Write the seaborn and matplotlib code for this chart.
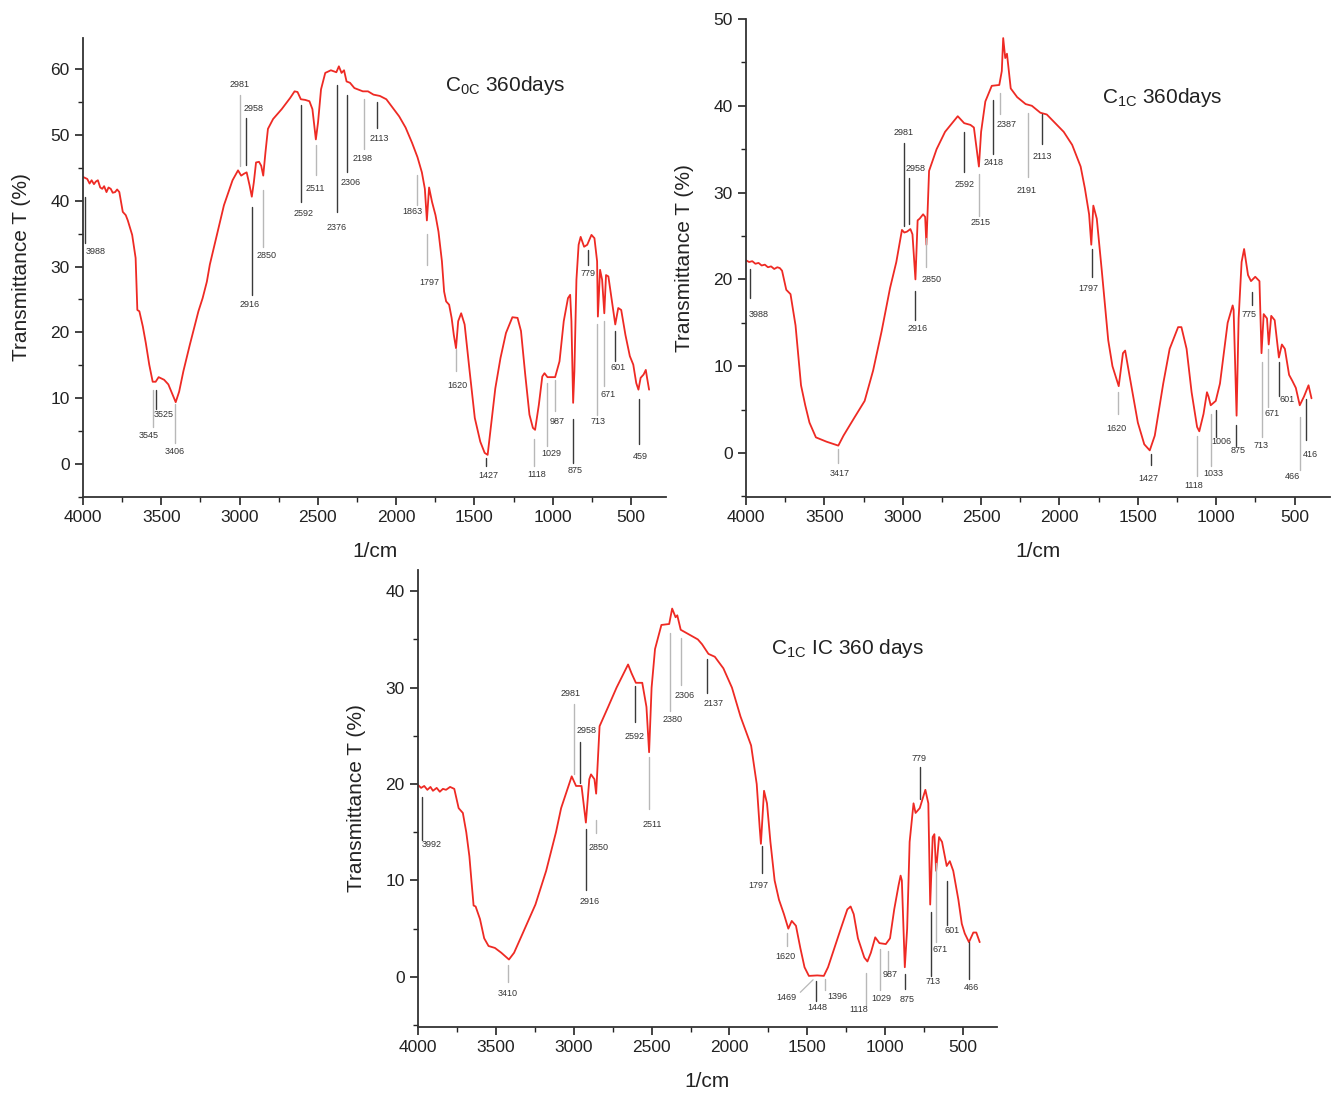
import matplotlib
matplotlib.use("Agg")
import matplotlib.pyplot as plt
import seaborn as sns
import pandas as pd
from matplotlib.ticker import MultipleLocator

# ---------------- data: C0C 360 days ----------------
c0c_wn = [4000, 3973, 3958, 3945, 3930, 3918, 3905, 3890, 3877, 3865, 3850, 3837, 3823, 3810, 3795, 3782, 3768,
          3746, 3727, 3714, 3686, 3664, 3653, 3640, 3618, 3599, 3577, 3555, 3536, 3517, 3482, 3455, 3427, 3408,
          3386, 3359, 3318, 3263, 3236, 3209, 3190, 3140, 3100, 3045, 3010, 2990, 2971, 2955, 2936, 2922, 2909,
          2895, 2876, 2862, 2849, 2835, 2819, 2786, 2731, 2677, 2649, 2630, 2609, 2581, 2554, 2535, 2513, 2499,
          2480, 2453, 2417, 2382, 2366, 2349, 2333, 2317, 2295, 2267, 2213, 2180, 2145, 2104, 2063, 2022, 1981,
          1940, 1899, 1864, 1836, 1817, 1804, 1790, 1771, 1749, 1730, 1708, 1694, 1681, 1662, 1646, 1632, 1618,
          1604, 1585, 1563, 1531, 1498, 1463, 1435, 1416, 1394, 1367, 1334, 1299, 1258, 1225, 1203, 1176, 1149,
          1127, 1113, 1089, 1067, 1053, 1034, 1012, 985, 957, 930, 903, 889, 881, 870, 862, 849, 835, 822, 800,
          780, 753, 734, 717, 712, 698, 685, 671, 660, 645, 631, 601, 582, 563, 536, 508, 486, 467, 453, 439,
          420, 406, 398, 385]
c0c_t = [43.6, 43.3, 42.6, 43.1, 42.5, 42.9, 43.1, 42.0, 41.8, 42.2, 41.3, 42.0, 41.8, 41.2, 41.3, 41.7, 41.3,
         38.3, 37.8, 37.0, 34.8, 31.3, 23.4, 23.2, 20.9, 18.4, 15.1, 12.5, 12.5, 13.2, 12.8, 12.1, 10.5, 9.4,
         11.0, 14.1, 18.1, 23.2, 25.2, 27.7, 30.3, 35.3, 39.3, 43.1, 44.6, 43.8, 44.1, 44.3, 42.3, 40.6, 42.8,
         45.8, 45.9, 45.3, 43.8, 47.3, 50.9, 52.4, 53.9, 55.6, 56.6, 56.5, 55.4, 55.3, 55.1, 53.9, 49.3, 51.9,
         56.9, 59.4, 59.8, 59.5, 60.4, 59.4, 59.8, 58.1, 57.9, 57.1, 56.6, 56.6, 56.1, 55.9, 55.4, 54.1, 52.8,
         51.1, 48.8, 46.6, 44.3, 41.8, 37.0, 42.0, 39.8, 37.8, 35.3, 30.8, 26.2, 24.7, 24.2, 22.2, 19.6, 17.6,
         21.7, 22.9, 21.2, 14.1, 7.0, 3.4, 1.7, 1.4, 6.0, 11.5, 16.1, 19.9, 22.3, 22.2, 20.2, 13.6, 7.5,
         5.5, 5.2, 9.0, 13.3, 13.8, 13.2, 13.2, 13.2, 15.6, 21.7, 25.2, 25.7, 21.7, 9.3, 14.1, 28.0, 33.3, 34.5, 33.0,
         33.3, 34.8, 34.3, 30.8, 22.4, 29.5, 28.0, 22.9, 28.7, 28.5, 26.2, 21.2, 23.7, 23.4, 19.6, 16.4, 15.1, 12.3, 11.3, 13.1,
         13.6, 14.3, 13.1, 11.3]
c0c_labels = ["3988", "3545", "3525", "3406", "2981", "2958", "2916", "2850", "2592", "2511", "2376", "2306",
              "2198", "2113", "1863", "1797", "1620", "1427", "1118", "1029", "987", "875", "779", "713", "671",
              "601", "459"]

# ---------------- data: C1C 360 days ----------------
c1c_wn = [4000, 3980, 3960, 3940, 3920, 3900, 3880, 3860, 3840, 3820, 3800, 3784, 3770, 3743, 3716, 3684, 3649,
          3622, 3595, 3554, 3486, 3411, 3378, 3311, 3243, 3189, 3135, 3081, 3041, 3005, 2990, 2973, 2951, 2938, 2919,
          2905, 2892, 2870, 2857, 2849, 2832, 2784, 2730, 2649, 2608, 2568, 2546, 2514, 2500, 2473, 2432, 2384,
          2368, 2359, 2346, 2335, 2311, 2270, 2216, 2176, 2122, 2081, 2027, 1973, 1919, 1865, 1838, 1811, 1797,
          1784, 1762, 1730, 1689, 1662, 1622, 1595, 1581, 1554, 1500, 1459, 1424, 1392, 1338, 1297, 1243, 1222,
          1189, 1157, 1122, 1108, 1081, 1059, 1049, 1035, 1003, 976, 941, 927, 895, 889, 870, 857, 838, 822, 797,
          778, 751, 724, 711, 697, 676, 665, 649, 627, 600, 581, 562, 535, 514, 492, 467, 440, 411, 392]
c1c_t = [22.2, 22.0, 22.1, 21.8, 21.9, 21.6, 21.7, 21.4, 21.5, 21.2, 21.4, 21.3, 21.0, 18.8, 18.3, 14.7, 7.8,
         5.5, 3.5, 1.8, 1.3, 0.85, 2.0, 4.0, 6.0, 9.5, 14.0, 19.0, 22.0, 25.7, 25.4, 25.5, 25.8, 25.2, 20.0,
         26.8, 27.0, 27.5, 27.2, 24.0, 32.5, 35.0, 37.0, 38.8, 38.0, 37.8, 37.5, 33.0, 37.0, 40.5, 42.3, 42.4,
         44.0, 47.8, 45.5, 46.0, 42.0, 41.0, 40.2, 40.0, 39.2, 39.0, 38.0, 37.0, 35.5, 33.0, 30.5, 27.5, 24.0,
         28.5, 27.0, 21.0, 13.0, 10.0, 7.7, 11.5, 11.8, 9.0, 3.5, 1.0, 0.3, 2.0, 8.0, 12.0, 14.5, 14.5,
         12.0, 7.0, 3.0, 2.5, 4.5, 7.0, 6.5, 5.5, 6.0, 8.0, 13.0, 15.0, 17.0, 16.5, 4.3, 15.5, 22.0, 23.5, 20.5,
         19.8, 20.3, 19.8, 11.5, 16.0, 15.5, 12.5, 15.8, 15.3, 11.0, 12.5, 12.0, 9.0, 8.3, 7.5, 5.5, 6.5, 7.8, 6.3]
c1c_labels = ["3988", "3417", "2981", "2958", "2916", "2850", "2592", "2515", "2418", "2387", "2191", "2113",
              "1797", "1620", "1427", "1118", "1033", "1006", "875", "775", "713", "671", "601", "466", "416"]

# ---------------- data: C1C IC 360 days ----------------
c1cic_wn = [4000, 3980, 3960, 3940, 3920, 3904, 3880, 3860, 3840, 3820, 3794, 3767, 3739, 3712, 3690, 3670, 3657,
            3643, 3630, 3602, 3575, 3547, 3506, 3465, 3416, 3383, 3328, 3246, 3177, 3114, 3081, 3013, 2985, 2950,
            2922, 2900, 2889, 2867, 2856, 2834, 2779, 2725, 2651, 2629, 2601, 2560, 2533, 2516, 2500, 2478, 2437,
            2387, 2368, 2346, 2335, 2313, 2258, 2203, 2176, 2135, 2094, 2039, 1984, 1929, 1861, 1825, 1806, 1798,
            1778, 1759, 1737, 1710, 1682, 1650, 1622, 1600, 1573, 1545, 1518, 1490, 1436, 1394, 1367, 1326, 1285,
            1243, 1222, 1202, 1175, 1134, 1114, 1092, 1064, 1037, 996, 969, 942, 914, 901, 893, 874, 859, 843, 818,
            805, 778, 742, 723, 711, 695, 684, 673, 654, 635, 605, 585, 563, 530, 508, 489, 462, 434, 415, 393]
c1cic_t = [19.9, 19.6, 19.8, 19.4, 19.7, 19.3, 19.6, 19.2, 19.5, 19.4, 19.7, 19.5, 17.5, 17.0, 15.0, 12.5, 10.0,
           7.4, 7.3, 6.0, 4.0, 3.2, 3.0, 2.5, 1.8, 2.5, 4.5, 7.5, 11.0, 15.0, 17.5, 20.8, 19.8, 19.8,
           16.0, 20.5, 21.0, 20.5, 19.0, 26.0, 28.0, 30.0, 32.4, 31.5, 30.5, 30.5, 28.0, 23.3, 30.0, 34.0, 36.5,
           36.6, 38.2, 37.3, 37.5, 36.0, 35.5, 35.0, 34.5, 33.5, 33.2, 32.0, 30.0, 27.0, 24.0, 20.0, 15.5, 13.8,
           19.3, 18.0, 14.0, 10.0, 8.0, 6.5, 5.0, 5.8, 5.3, 3.0, 1.0, 0.1, 0.15, 0.1, 1.0, 3.0, 5.0,
           7.0, 7.3, 6.5, 4.0, 2.0, 1.6, 2.5, 4.1, 3.5, 3.4, 4.0, 7.0, 9.5, 10.5, 10.0, 1.0, 5.0, 14.0, 18.0,
           17.0, 17.5, 19.4, 18.0, 7.5, 14.5, 14.8, 11.0, 14.5, 14.0, 11.5, 12.0, 11.0, 8.0, 5.5, 4.5, 3.6, 4.6, 4.6, 3.6]
c1cic_labels = ["3992", "3410", "2981", "2958", "2916", "2850", "2592", "2511", "2380", "2306", "2137", "1797",
                "1620", "1469", "1448", "1396", "1118", "1029", "987", "875", "779", "713", "671", "601", "466"]

titles = [r"C$_{\mathrm{0C}}$ 360days", r"C$_{\mathrm{1C}}$ 360days", r"C$_{\mathrm{1C}}$ IC 360 days"]
ylabel = "Transmittance T (%)"
xlabel = "1/cm"

# -------- annotation layout (line x, line top, line bottom, text x, text y, dark?) --------
c0c_layout = [
    (3988, 40.6, 33.5, 3918, 32.3, 1), (3555, 11.3, 5.6, 3583, 4.3, 0), (3536, 11.3, 8.3, 3482, 7.5, 1),
    (3413, 9.1, 3.2, 3413, 1.9, 0), (2996, 56.0, 45.3, 2999, 57.6, 0), (2960, 52.5, 45.4, 2912, 54.0, 1),
    (2920, 39.0, 25.7, 2936, 24.2, 1), (2851, 41.6, 32.9, 2827, 31.6, 0), (2611, 54.5, 39.8, 2590, 38.0, 1),
    (2512, 48.4, 43.9, 2514, 41.9, 0), (2377, 57.6, 38.3, 2378, 35.9, 1), (2315, 56.0, 44.4, 2288, 42.8, 1),
    (2207, 55.5, 47.9, 2216, 46.4, 0), (2120, 55.0, 51.0, 2109, 49.4, 1), (1869, 43.9, 39.4, 1899, 38.4, 0),
    (1804, 35.0, 30.2, 1790, 27.6, 0), (1618, 17.4, 14.2, 1612, 11.9, 0), (1425, 0.9, -0.35, 1411, -1.8, 1),
    (1122, 3.8, -0.35, 1102, -1.6, 0), (1039, 12.3, 2.7, 1007, 1.6, 0), (988, 12.8, 8.0, 970, 6.5, 0),
    (869, 6.9, 0.15, 860, -1.0, 1), (772, 32.5, 30.2, 772, 28.9, 1), (716, 21.3, 7.5, 710, 6.5, 0),
    (671, 21.7, 11.8, 650, 10.5, 0), (601, 20.2, 15.6, 580, 14.7, 1), (449, 9.9, 3.0, 441, 1.2, 1)]
c1c_layout = [
    (3973, 21.2, 17.8, 3919, 16.0, 1), (3411, 0.5, -1.1, 3400, -2.4, 0), (2995, 35.7, 26.2, 2997, 36.9, 1),
    (2957, 31.7, 26.4, 2919, 32.8, 1), (2919, 18.7, 15.3, 2905, 14.3, 1), (2854, 24.8, 21.4, 2819, 20.0, 0),
    (2608, 37.0, 32.4, 2608, 30.9, 1), (2511, 32.1, 27.3, 2505, 26.5, 0), (2424, 40.7, 34.4, 2419, 33.5, 1),
    (2381, 41.5, 39.0, 2338, 37.8, 0), (2200, 39.2, 31.8, 2208, 30.2, 0), (2111, 39.0, 35.6, 2108, 34.2, 1),
    (1795, 23.5, 20.3, 1819, 18.9, 1), (1627, 7.0, 4.5, 1635, 2.8, 0), (1419, -0.1, -1.4, 1432, -2.9, 1),
    (1122, 2.0, -2.6, 1141, -3.7, 0), (1035, 4.5, -1.5, 1019, -2.4, 0), (1000, 5.0, 1.8, 965, 1.3, 1),
    (873, 3.2, 0.8, 857, 0.3, 1), (770, 18.5, 17.0, 789, 15.9, 1), (708, 10.5, 1.8, 716, 0.9, 0),
    (670, 12.0, 5.3, 643, 4.6, 0), (600, 10.5, 6.6, 545, 6.2, 1), (467, 4.1, -2.0, 514, -2.7, 0),
    (424, 6.2, 1.5, 397, -0.2, 1)]
c1cic_layout = [
    (3973, 18.7, 14.2, 3912, 13.7, 1), (3419, 1.2, -0.5, 3424, -1.7, 0), (2996, 28.3, 21.0, 3021, 29.4, 0),
    (2958, 24.4, 20.1, 2917, 25.6, 1), (2922, 15.3, 9.0, 2900, 7.8, 1), (2859, 16.3, 14.9, 2840, 13.4, 0),
    (2607, 30.2, 26.4, 2607, 24.9, 1), (2519, 22.8, 17.4, 2497, 15.8, 0), (2382, 35.7, 27.6, 2363, 26.7, 0),
    (2313, 35.1, 30.3, 2291, 29.2, 0), (2143, 33.0, 29.4, 2102, 28.4, 1), (1792, 13.6, 10.8, 1817, 9.5, 1),
    (1628, 4.6, 3.2, 1641, 2.1, 0), (1463, -0.3, -1.6, 1636, -2.1, 0), (1444, -0.4, -2.5, 1436, -3.2, 1),
    (1389, -0.2, -1.4, 1304, -2.0, 0), (1126, 0.4, -3.0, 1170, -3.4, 0), (1032, 2.9, -1.4, 1024, -2.2, 0),
    (983, 2.7, 0.6, 969, 0.2, 0), (873, 0.3, -1.3, 860, -2.3, 1), (775, 21.8, 18.4, 783, 22.6, 1),
    (706, 6.7, 0.1, 695, -0.5, 1), (673, 11.8, 3.6, 646, 2.8, 0), (602, 9.9, 5.4, 572, 4.8, 1),
    (459, 3.6, -0.2, 448, -1.1, 1)]

# ---------------- figure ----------------
sns.set_style("ticks")
plt.rcParams["font.family"] = ["Liberation Sans", "DejaVu Sans"]
plt.rcParams["mathtext.fontset"] = "custom"
plt.rcParams["mathtext.rm"] = "Liberation Sans"

fig = plt.figure(figsize=(13.31, 10.95), dpi=100)
ax_boxes = [[83 / 1331, 1 - 497 / 1095, 583 / 1331, 459 / 1095],
            [746 / 1331, 1 - 497 / 1095, 584 / 1331, 478 / 1095],
            [418 / 1331, 1 - 1027 / 1095, 579 / 1331, 457 / 1095]]
xlims = [(4000, 277), (4000, 274), (4000, 282)]
ylims = [(-5, 64.7), (-5.07, 50), (-5.2, 42.2)]
title_pos = [(1690, 57.5), (1729, 41.0), (1734, 34.1)]

series = [(c0c_wn, c0c_t, c0c_labels, c0c_layout),
          (c1c_wn, c1c_t, c1c_labels, c1c_layout),
          (c1cic_wn, c1cic_t, c1cic_labels, c1cic_layout)]

for i, (wn, tt, labs, lay) in enumerate(series):
    ax = fig.add_axes(ax_boxes[i])
    df = pd.DataFrame({"wn": wn, "T": tt})
    sns.lineplot(data=df, x="wn", y="T", ax=ax, color="#ee2a24", linewidth=1.3,
                 estimator=None, sort=False)
    # annotations
    for lab, (lx, ytop, ybot, tx, ty, dark) in zip(labs, lay):
        col = "#3a3a3a" if dark else "#b8b8b8"
        if lab == "1469":
            ax.plot([1545, lx], [-1.6, ytop], color=col, lw=0.9)
        else:
            ax.plot([lx, lx], [ytop, ybot], color=col, lw=1.0)
        ax.text(tx, ty, lab, fontsize=6.5, color="#333333", ha="center", va="center")
    ax.text(title_pos[i][0], title_pos[i][1], titles[i], fontsize=15, ha="left", va="center",
            color="#222222")
    ax.set_xlim(*xlims[i])
    ax.set_ylim(*ylims[i])
    ax.xaxis.set_major_locator(MultipleLocator(500))
    ax.xaxis.set_minor_locator(MultipleLocator(250))
    ax.yaxis.set_major_locator(MultipleLocator(10))
    ax.yaxis.set_minor_locator(MultipleLocator(5))
    ax.tick_params(which="major", direction="out", length=6, width=1.2, labelsize=12.5,
                   colors="#222222")
    ax.tick_params(which="minor", direction="out", length=3.5, width=1.0, colors="#222222")
    ax.set_xlabel(xlabel, fontsize=15, labelpad=12, color="#222222")
    ax.set_ylabel(ylabel, fontsize=15, labelpad=14, color="#222222")
    sns.despine(ax=ax)
    for s in ["left", "bottom"]:
        ax.spines[s].set_linewidth(1.3)
        ax.spines[s].set_color("#333333")
    ax.patch.set_alpha(0)

fig.savefig("out.png", dpi=100)
